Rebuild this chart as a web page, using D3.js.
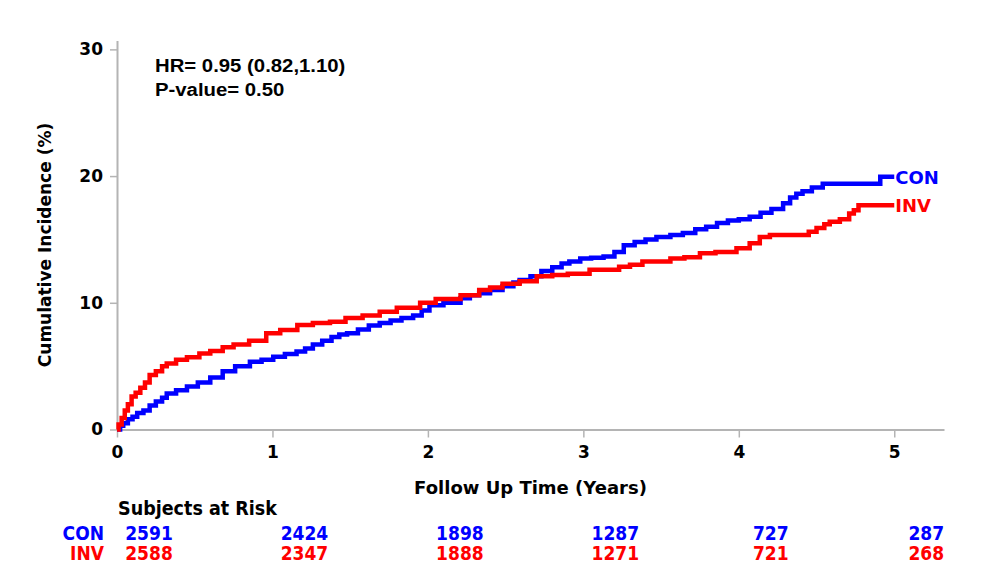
<!DOCTYPE html>
<html>
<head>
<meta charset="utf-8">
<script src="https://cdn.jsdelivr.net/npm/d3@7"></script>
<style>
  html, body { margin: 0; padding: 0; background: #fff; }
  svg { display: block; }
</style>
</head>
<body>
<svg id="chart" width="985" height="574"></svg>
<script>
// ---------- data ----------
const conTimes = [0, 0.02, 0.04, 0.07, 0.10, 0.13, 0.17, 0.21, 0.25, 0.29, 0.32, 0.38, 0.45, 0.52, 0.60, 0.68, 0.76, 0.855, 0.93, 1.005, 1.08, 1.155, 1.21, 1.26, 1.32, 1.38, 1.43, 1.48, 1.55, 1.62, 1.69, 1.76, 1.83, 1.905, 1.96, 2.01, 2.10, 2.21, 2.27, 2.33, 2.40, 2.48, 2.55, 2.59, 2.66, 2.73, 2.80, 2.86, 2.91, 2.98, 3.05, 3.13, 3.20, 3.26, 3.33, 3.40, 3.47, 3.56, 3.64, 3.72, 3.79, 3.86, 3.93, 4.00, 4.07, 4.14, 4.21, 4.285, 4.33, 4.37, 4.41, 4.47, 4.54, 4.91, 5.0];
const conValues = [0, 0.3, 0.5, 0.8, 1.0, 1.3, 1.5, 1.9, 2.2, 2.5, 2.85, 3.1, 3.4, 3.7, 4.1, 4.6, 5.0, 5.35, 5.5, 5.75, 5.95, 6.15, 6.4, 6.7, 7.0, 7.3, 7.5, 7.6, 7.9, 8.2, 8.4, 8.6, 8.8, 9.0, 9.4, 9.8, 10.0, 10.35, 10.6, 10.75, 11.0, 11.3, 11.6, 11.8, 12.1, 12.5, 12.8, 13.1, 13.25, 13.5, 13.55, 13.65, 14.0, 14.55, 14.8, 15.0, 15.2, 15.35, 15.5, 15.8, 16.0, 16.3, 16.5, 16.6, 16.8, 17.1, 17.4, 17.85, 18.3, 18.6, 18.8, 19.1, 19.4, 19.95, 19.95];

const invTimes = [0, 0.01, 0.03, 0.05, 0.07, 0.094, 0.12, 0.15, 0.18, 0.21, 0.25, 0.29, 0.32, 0.38, 0.45, 0.53, 0.60, 0.68, 0.75, 0.85, 0.96, 1.05, 1.16, 1.26, 1.37, 1.47, 1.58, 1.69, 1.80, 1.95, 2.05, 2.21, 2.33, 2.40, 2.48, 2.59, 2.70, 2.80, 2.90, 3.04, 3.23, 3.30, 3.38, 3.56, 3.65, 3.75, 3.85, 3.985, 4.07, 4.135, 4.20, 4.45, 4.50, 4.55, 4.585, 4.65, 4.71, 4.74, 4.77, 5.0];
const invValues = [0, 0.4, 0.9, 1.5, 2.0, 2.6, 2.9, 3.3, 3.7, 4.3, 4.6, 5.0, 5.2, 5.5, 5.7, 6.0, 6.2, 6.5, 6.7, 7.0, 7.6, 7.85, 8.25, 8.4, 8.5, 8.8, 9.0, 9.3, 9.6, 10.0, 10.3, 10.6, 11.0, 11.2, 11.5, 11.7, 12.1, 12.2, 12.3, 12.6, 12.85, 13.0, 13.25, 13.5, 13.6, 13.9, 14.0, 14.3, 14.7, 15.2, 15.35, 15.6, 15.9, 16.2, 16.4, 16.6, 17.05, 17.3, 17.7, 17.7];

const groups = ["CON", "INV"];
const groupColors = ["#0000ff", "#ff0000"];
const xTicks = [0, 1, 2, 3, 4, 5];
const yTicks = [0, 10, 20, 30];
const riskTimes = [0, 1, 2, 3, 4, 5];
const riskCON = [2591, 2424, 1898, 1287, 727, 287];
const riskINV = [2588, 2347, 1888, 1271, 721, 268];
const hrText = "HR= 0.95 (0.82,1.10)";
const pText = "P-value= 0.50";

// ---------- chart ----------
const svg = d3.select("#chart");
const x = d3.scaleLinear().domain([0, 5.32]).range([117, 944]);
const y = d3.scaleLinear().domain([0, 30.7]).range([429.5, 40.5]);
const axisColor = "#b4b4b4";
const tickFont = "'DejaVu Sans', sans-serif";

const xAxis = svg.append("g")
  .attr("transform", `translate(0,${y(0)})`)
  .call(d3.axisBottom(x).tickValues(xTicks).tickFormat(d3.format("d")).tickSize(8).tickPadding(8).tickSizeOuter(0));
const yAxis = svg.append("g")
  .attr("transform", `translate(${x(0)},0)`)
  .call(d3.axisLeft(y).tickValues(yTicks).tickFormat(d3.format("d")).tickSize(7).tickPadding(7).tickSizeOuter(0));
[xAxis, yAxis].forEach(g => {
  g.select(".domain").attr("stroke", axisColor).attr("stroke-width", 2);
  g.selectAll(".tick line").attr("stroke", axisColor).attr("stroke-width", 1.5);
  g.selectAll(".tick text").attr("fill", "#000").style("font-family", tickFont)
    .style("font-weight", "bold").style("font-size", "17px");
});

// axis titles
svg.append("text").attr("x", (x(0) + x(5.32)) / 2).attr("y", 494)
  .attr("text-anchor", "middle").style("font-family", tickFont).style("font-weight", "bold")
  .style("font-size", "18px").text("Follow Up Time (Years)");
svg.append("text").attr("transform", `translate(51,245) rotate(-90)`)
  .attr("text-anchor", "middle").style("font-family", tickFont).style("font-weight", "bold")
  .style("font-size", "17px").text("Cumulative Incidence (%)");

// curves
const line = d3.line().x(d => x(d[0])).y(d => y(d[1])).curve(d3.curveStepAfter);
const series = [
  { name: groups[0], color: groupColors[0], pts: d3.zip(conTimes, conValues) },
  { name: groups[1], color: groupColors[1], pts: d3.zip(invTimes, invValues) }
];
series.forEach(s => {
  svg.append("path").datum(s.pts).attr("d", line).attr("fill", "none")
    .attr("stroke", s.color).attr("stroke-width", 4.5).attr("stroke-linejoin", "miter");
  const last = s.pts[s.pts.length - 1];
  svg.append("text").attr("x", x(last[0]) + 1).attr("y", y(last[1])).attr("dy", "0.38em")
    .attr("fill", s.color).style("font-family", tickFont).style("font-weight", "bold")
    .style("font-size", "18px").text(s.name);
});

// HR annotation
[hrText, pText].forEach((t, i) => {
  svg.append("text").attr("transform", `translate(155,${72 + i * 24}) scale(1.13,1)`)
    .style("font-family", "'Liberation Sans', Arial, sans-serif").style("font-weight", "bold")
    .style("font-size", "18px").attr("fill", "#000").text(t);
});

// risk table
const riskFont = "'DejaVu Sans Condensed', 'DejaVu Sans', sans-serif";
svg.append("text").attr("x", 118).attr("y", 515)
  .style("font-family", riskFont).style("font-weight", "bold").style("font-stretch", "condensed")
  .style("font-size", "19.5px").attr("fill", "#000").text("Subjects at Risk");
[riskCON, riskINV].forEach((row, i) => {
  const yy = 540 + i * 20;
  svg.append("text").attr("x", 104).attr("y", yy).attr("text-anchor", "end")
    .style("font-family", riskFont).style("font-weight", "bold").style("font-stretch", "condensed")
    .style("font-size", "19px").attr("fill", groupColors[i]).text(groups[i]);
  svg.append("g").selectAll("text").data(row).join("text")
    .attr("x", (d, j) => x(riskTimes[j]) + 32).attr("y", yy).attr("text-anchor", "middle")
    .style("font-family", riskFont).style("font-weight", "bold").style("font-stretch", "condensed")
    .style("font-size", "19px").attr("fill", groupColors[i]).text(d => d);
});
</script>
</body>
</html>
